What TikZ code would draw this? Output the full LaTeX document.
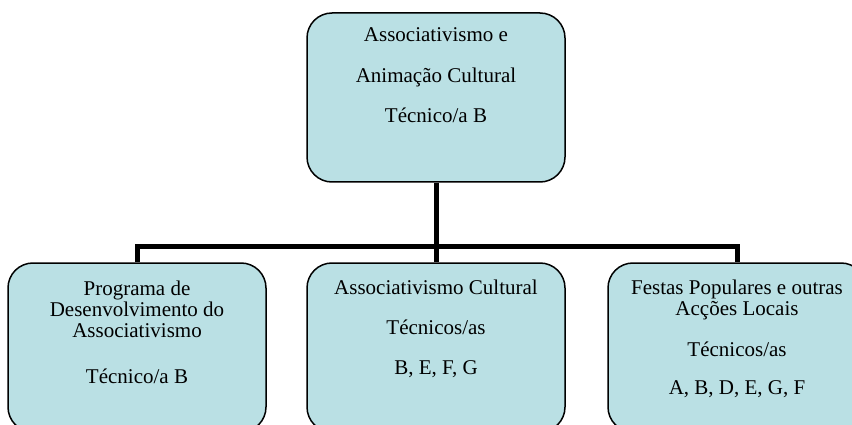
\documentclass[tikz,border=0pt]{standalone}
\usepackage{fontspec}
\setmainfont{Liberation Serif}
\begin{document}
\begin{tikzpicture}[x=1pt,y=-1pt,
  unitbox/.style={draw=black, line width=1.5pt, fill=boxfill, rounded corners=25pt,
    minimum width=258pt, minimum height=169pt, inner sep=0pt},
  label/.style={anchor=base, inner sep=0pt, font=\fontsize{21}{25}\selectfont},
  conn/.style={line width=5pt, line join=miter, line cap=butt}]
\definecolor{boxfill}{RGB}{186,224,228}
\useasboundingbox (0,0) rectangle (852,425);
\clip (0,0) rectangle (852,425);

% organisational units
\node[unitbox] (top)   at (436,97.5)  {};
\node[unitbox] (left)  at (137,347.5) {};
\node[unitbox] (mid)   at (436,347.5) {};
\node[unitbox] (right) at (737,347.5) {};

% connectors from the head unit down to the three sub-units
\coordinate (bus) at (436,246);
\draw[conn] (top.south) -- (mid.north);
\draw[conn] (left.north) |- (bus) -| (right.north);

% head unit
\node[label] (t1) at (436,42)  {Associativismo e};
\node[label] (t2) at (436,83)  {Animação Cultural};
\node[label] (t3) at (436,123) {Técnico/a B};

% left unit
\node[label] (l1) at (137,295) {Programa de};
\node[label] (l2) at (137,316) {Desenvolvimento do};
\node[label] (l3) at (137,337) {Associativismo};
\node[label] (l4) at (137,383) {Técnico/a B};

% middle unit
\node[label] (m1) at (436,294) {Associativismo Cultural};
\node[label] (m2) at (436,334) {Técnicos/as};
\node[label] (m3) at (436,374) {B, E, F, G};

% right unit
\node[label] (r1) at (737,294) {Festas Populares e outras};
\node[label] (r2) at (737,315) {Acções Locais};
\node[label] (r3) at (737,356) {Técnicos/as};
\node[label] (r4) at (737,394) {A, B, D, E, G, F};
\end{tikzpicture}
\end{document}
